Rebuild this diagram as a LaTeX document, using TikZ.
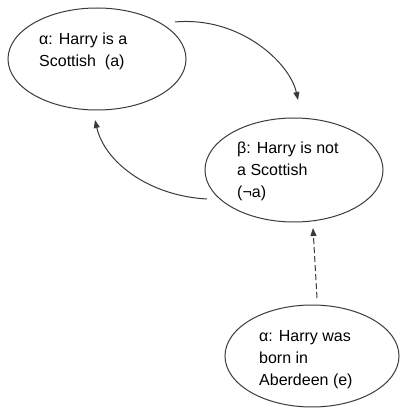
\documentclass[tikz,border=0pt]{standalone}
\usepackage{fontspec}
\setmainfont{Liberation Sans}
\usetikzlibrary{shapes.geometric,arrows.meta}
\definecolor{ln}{HTML}{3A3A3A}
\tikzset{
  bubble/.style={ellipse,draw=ln,line width=1pt,inner sep=0pt},
  lbl/.style={anchor=north west,inner sep=0pt,align=left,font=\fontsize{16}{22}\selectfont,text=black},
  conn/.style={draw=ln,line width=1pt,-{Triangle[length=8pt,width=6pt]}}
}
\begin{document}
\begin{tikzpicture}[x=1pt,y=1pt]
\useasboundingbox (0,0) rectangle (400,408);
\node[bubble,minimum width=178pt,minimum height=102pt] (e1) at (97,349) {};
\node[bubble,minimum width=178pt,minimum height=104pt] (e2) at (294,238) {};
\node[bubble,minimum width=174pt,minimum height=102pt] (e3) at (312,52) {};
\node[lbl] (t1) at (39,375) {α: Harry is a\\Scottish\ \ (a)};
\node[lbl] (t2) at (237,266) {β: Harry is not\\a Scottish\\(¬a)};
\node[lbl] (t3) at (259,78) {α: Harry was\\born in\\Aberdeen (e)};
\coordinate (a1s) at (175,386);
\coordinate (a1e) at (298,308);
\coordinate (a2s) at (207,209);
\coordinate (a2e) at (95,288);
\coordinate (a3s) at (317,110);
\coordinate (a3e) at (313,180);
\draw[conn] (a1s) .. controls (240,392) and (290,345) .. (a1e);
\draw[conn] (a2s) .. controls (150,212) and (105,245) .. (a2e);
\draw[conn,dash pattern=on 6pt off 3pt] (a3s) -- (a3e);
\end{tikzpicture}
\end{document}
